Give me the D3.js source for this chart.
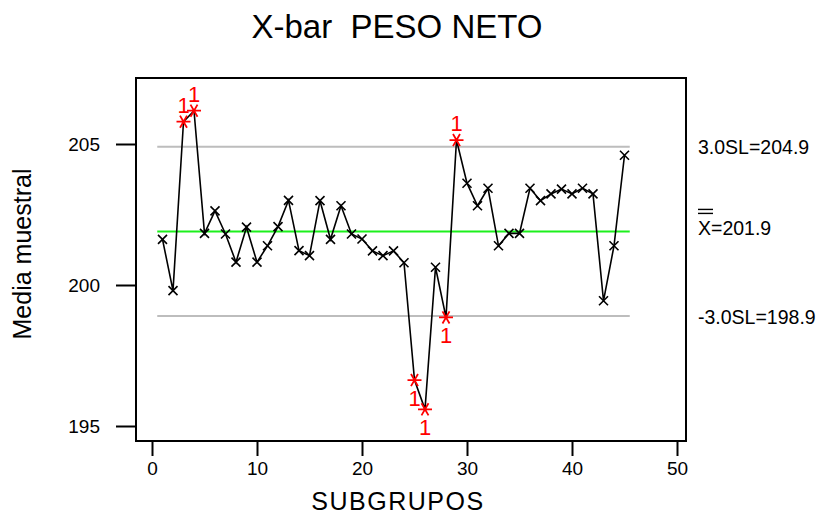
<!DOCTYPE html>
<html>
<head>
<meta charset="utf-8">
<script src="https://cdn.jsdelivr.net/npm/d3@7"></script>
<style>
  body { margin: 0; background: #fff; }
  text { font-family: "Liberation Sans", Arial, sans-serif; white-space: pre; }
</style>
</head>
<body>
<div id="chart"></div>
<script>
// Carta X-bar del peso neto: medias de 45 subgrupos con sus límites.
const subgrupos = d3.range(1, 46);
const medias = [
  201.62, 199.80, 205.79, 206.18, 201.83, 202.63, 201.81, 200.81, 202.05, 200.81,
  201.39, 202.07, 203.00, 201.22, 201.04, 202.99, 201.62, 202.81, 201.81, 201.63,
  201.21, 201.04, 201.21, 200.79, 196.63, 195.59, 200.63, 198.85, 205.14, 203.61,
  202.81, 203.43, 201.39, 201.83, 201.83, 203.43, 202.99, 203.23, 203.40, 203.23,
  203.43, 203.23, 199.44, 201.39, 204.60
];
const limites = { ucl: 204.9, media: 201.9, lcl: 198.9 };
const xTicks = [0, 10, 20, 30, 40, 50];
const yTicks = [195, 200, 205];

const W = 822, H = 521;
const frame = { left: 136, right: 686, top: 78, bottom: 441 };

const svg = d3.select('#chart').append('svg').attr('width', W).attr('height', H);

const x = d3.scaleLinear().domain([0, 50]).range([152, 677]);
const y = d3.scaleLinear().domain([195, 205]).range([426, 144]);

// marco
svg.append('rect')
  .attr('x', frame.left).attr('y', frame.top)
  .attr('width', frame.right - frame.left).attr('height', frame.bottom - frame.top)
  .attr('fill', 'none').attr('stroke', '#000').attr('stroke-width', 2);

// ejes (ticks hacia fuera)
const xAxis = svg.append('g').attr('transform', `translate(0,${frame.bottom})`)
  .call(d3.axisBottom(x).tickValues(xTicks).tickSize(15).tickPadding(6));
const yAxis = svg.append('g').attr('transform', `translate(${frame.left},0)`)
  .call(d3.axisLeft(y).tickValues(yTicks).tickSize(20).tickPadding(16));
[xAxis, yAxis].forEach(a => {
  a.select('.domain').remove();
  a.selectAll('line').attr('stroke', '#000').attr('stroke-width', 2);
  a.selectAll('text').attr('font-size', 19).attr('fill', '#000')
    .attr('font-family', '"Liberation Sans", Arial, sans-serif');
});

// líneas de control
const x0 = x(0.5), x1 = x(45.5);
[['ucl', '#bdbdbd'], ['lcl', '#bdbdbd'], ['media', '#1cf01c']].forEach(([k, c]) => {
  svg.append('line').attr('x1', x0).attr('x2', x1)
    .attr('y1', y(limites[k])).attr('y2', y(limites[k]))
    .attr('stroke', c).attr('stroke-width', 2);
});

// serie
const datos = subgrupos.map((s, i) => ({ s, v: medias[i] }));
svg.append('path').datum(datos)
  .attr('d', d3.line().x(d => x(d.s)).y(d => y(d.v)))
  .attr('fill', 'none').attr('stroke', '#000').attr('stroke-width', 1.6);

const fuera = d => d.v > limites.ucl || d.v < limites.lcl;

// marcadores normales: ×
const cruz = 4.5;
svg.append('g').selectAll('path').data(datos.filter(d => !fuera(d))).join('path')
  .attr('d', d => {
    const px = x(d.s), py = y(d.v);
    return `M${px - cruz},${py - cruz}L${px + cruz},${py + cruz}M${px - cruz},${py + cruz}L${px + cruz},${py - cruz}`;
  })
  .attr('stroke', '#000').attr('stroke-width', 1.6);

// puntos fuera de control: asterisco rojo + "1"
const ast = 7;
const rojos = svg.append('g').selectAll('g').data(datos.filter(fuera)).join('g')
  .attr('transform', d => `translate(${x(d.s)},${y(d.v)})`);
rojos.append('path')
  .attr('d', () => [0, 60, 120].map(a => {
    const r = a * Math.PI / 180, dx = Math.cos(r) * ast, dy = Math.sin(r) * ast;
    return `M${-dx},${-dy}L${dx},${dy}`;
  }).join(''))
  .attr('stroke', '#ff0000').attr('stroke-width', 1.8);
rojos.append('text')
  .attr('text-anchor', 'middle').attr('font-size', 22).attr('fill', '#ff0000')
  .attr('y', d => d.v > limites.ucl ? -9 : 26)
  .text('1');

// etiquetas de los límites a la derecha
const lx = 698;
svg.append('text').attr('x', lx).attr('y', y(limites.ucl) + 7).attr('font-size', 19.5)
  .text(`3.0SL=${limites.ucl}`);
svg.append('text').attr('x', lx).attr('y', y(limites.lcl) + 8).attr('font-size', 19.5)
  .text(`-3.0SL=${limites.lcl}`);
svg.append('text').attr('x', lx).attr('y', y(limites.media) + 4).attr('font-size', 19.5)
  .text(`X=${limites.media}`);
[0, 4].forEach(o => svg.append('line')
  .attr('x1', lx).attr('x2', lx + 15)
  .attr('y1', y(limites.media) - 22 + o).attr('y2', y(limites.media) - 22 + o)
  .attr('stroke', '#000').attr('stroke-width', 1.4));

// títulos
svg.append('text').attr('x', 397).attr('y', 38).attr('text-anchor', 'middle')
  .attr('font-size', 33).text('X-bar  PESO NETO');
svg.append('text').attr('x', 398).attr('y', 510).attr('text-anchor', 'middle')
  .attr('font-size', 25).attr('letter-spacing', 1.5).text('SUBGRUPOS');
svg.append('text').attr('transform', 'translate(31,254) rotate(-90)')
  .attr('text-anchor', 'middle').attr('font-size', 25).text('Media muestral');
</script>
</body>
</html>
